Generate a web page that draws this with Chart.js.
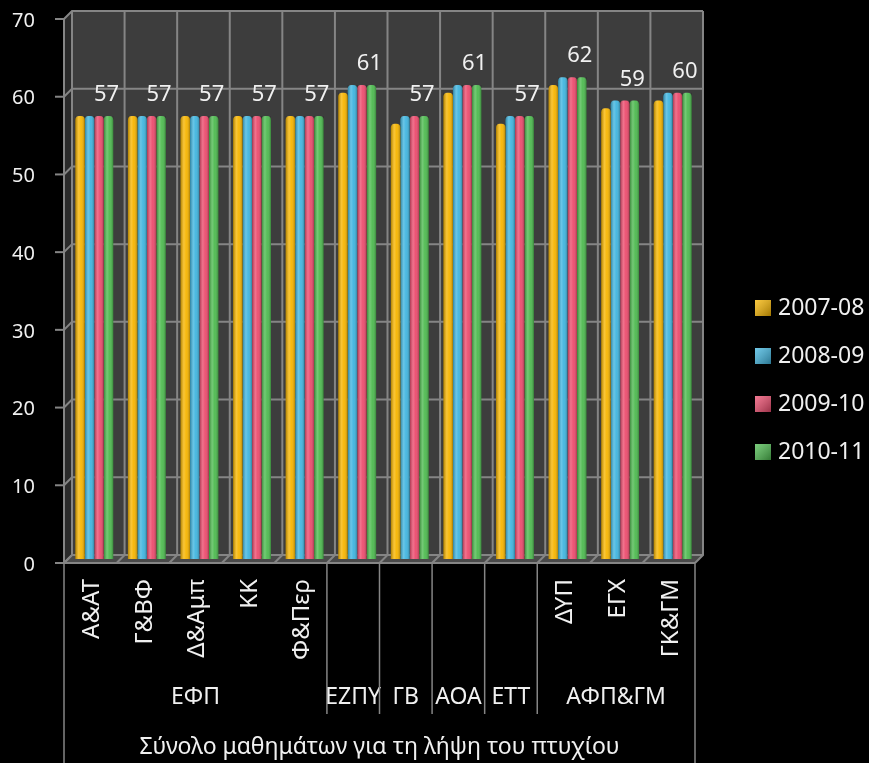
<!DOCTYPE html>
<html>
<head>
<meta charset="utf-8">
<script src="https://cdn.jsdelivr.net/npm/chart.js@4.4.1/dist/chart.umd.min.js"></script>
<style>
  html, body { margin: 0; padding: 0; background: #000; }
  #wrap { width: 869px; height: 763px; position: relative; }
</style>
</head>
<body>
<div id="wrap"><canvas id="grafico"></canvas></div>
<script>
// Dados
const categorias = ['Α&ΑΤ', 'Γ&ΒΦ', 'Δ&Αμπ', 'ΚΚ', 'Φ&Περ', '', '', '', '', 'ΔΥΠ', 'ΕΓΧ', 'ΓΚ&ΓΜ'];
const grupos = ['ΕΦΠ', 'ΕΖΠΥ', 'ΓΒ', 'ΑΟΑ', 'ΕΤΤ', 'ΑΦΠ&ΓΜ'];
const tamanhoGrupos = [5, 1, 1, 1, 1, 3];
const tituloEixo = 'Σύνολο μαθημάτων για τη λήψη του πτυχίου';
const anos = ['2007-08', '2008-09', '2009-10', '2010-11'];
const v0708 = [57, 57, 57, 57, 57, 60, 56, 60, 56, 61, 58, 59];
const v0809 = [57, 57, 57, 57, 57, 61, 57, 61, 57, 62, 59, 60];
const v0910 = [57, 57, 57, 57, 57, 61, 57, 61, 57, 62, 59, 60];
const v1011 = [57, 57, 57, 57, 57, 61, 57, 61, 57, 62, 59, 60];
const ticksY = [0, 10, 20, 30, 40, 50, 60, 70];

const cores = ['#F7B500', '#40B5DF', '#EC4B6D', '#4DBA4F'];
const fonte = '"Noto Sans", "Open Sans", sans-serif';
const DX = 4, DY = 4; // profundidade 3D

// Fundo 3D (paredes, chão, grades)
const paredes = {
  id: 'paredes',
  beforeDatasetsDraw(chart) {
    const { ctx, chartArea: a, scales: { x: xs, y: ys } } = chart;
    ctx.save();
    // parede do fundo
    ctx.fillStyle = '#3d3d3d';
    ctx.fillRect(a.left + DX, a.top - DY, a.right - a.left, a.bottom - a.top);
    // parede lateral
    ctx.fillStyle = '#2a2a2a';
    ctx.beginPath();
    ctx.moveTo(a.left - DX, a.top + DY);
    ctx.lineTo(a.left + DX, a.top - DY);
    ctx.lineTo(a.left + DX, a.bottom - DY);
    ctx.lineTo(a.left - DX, a.bottom + DY);
    ctx.closePath(); ctx.fill();
    // chão
    ctx.fillStyle = '#4a4a4a';
    ctx.beginPath();
    ctx.moveTo(a.left - DX, a.bottom + DY);
    ctx.lineTo(a.left + DX, a.bottom - DY);
    ctx.lineTo(a.right + DX, a.bottom - DY);
    ctx.lineTo(a.right - DX, a.bottom + DY);
    ctx.closePath(); ctx.fill();

    ctx.strokeStyle = '#858585';
    ctx.lineWidth = 2;
    // linhas horizontais
    ticksY.forEach(v => {
      const y = ys.getPixelForValue(v);
      ctx.beginPath();
      ctx.moveTo(a.left - DX, y + DY);
      ctx.lineTo(a.left + DX, y - DY);
      ctx.lineTo(a.right + DX, y - DY);
      ctx.stroke();
    });
    // linhas verticais entre categorias
    const n = categorias.length;
    for (let i = 0; i <= n; i++) {
      let x;
      if (i === 0) x = a.left;
      else if (i === n) x = a.right;
      else x = (xs.getPixelForValue(i - 1) + xs.getPixelForValue(i)) / 2;
      ctx.beginPath();
      ctx.moveTo(x + DX, a.top - DY);
      ctx.lineTo(x + DX, a.bottom - DY);
      ctx.lineTo(x - DX, a.bottom + DY);
      ctx.stroke();
    }
    ctx.restore();
  }
};

// Brilho cilíndrico, eixos, rótulos, legenda
const frente = {
  id: 'frente',
  afterDatasetsDraw(chart) {
    const { ctx, chartArea: a, scales: { x: xs, y: ys } } = chart;
    ctx.save();
    // brilho nas barras
    chart.data.datasets.forEach((ds, di) => {
      chart.getDatasetMeta(di).data.forEach(bar => {
        const l = bar.x - bar.width / 2, r = bar.x + bar.width / 2;
        const g = ctx.createLinearGradient(l, 0, r, 0);
        g.addColorStop(0, 'rgba(0,0,0,0.28)');
        g.addColorStop(0.35, 'rgba(255,255,255,0.22)');
        g.addColorStop(0.6, 'rgba(255,255,255,0.05)');
        g.addColorStop(1, 'rgba(0,0,0,0.28)');
        ctx.fillStyle = g;
        ctx.fillRect(l, bar.y, bar.width, bar.base - bar.y);
      });
    });

    // rótulos de dados (só 2010-11)
    ctx.fillStyle = '#f0f0f0';
    ctx.font = '22px ' + fonte;
    ctx.textAlign = 'center';
    ctx.textBaseline = 'middle';
    const ult = chart.data.datasets.length - 1;
    chart.getDatasetMeta(ult).data.forEach((bar, i) => {
      ctx.fillText(String(chart.data.datasets[ult].data[i]), bar.x - 2, bar.y - 21);
    });

    // eixo Y da frente
    ctx.strokeStyle = '#858585';
    ctx.lineWidth = 2;
    ctx.beginPath();
    ctx.moveTo(a.left - DX, a.top + DY);
    ctx.lineTo(a.left - DX, a.bottom + DY);
    ctx.stroke();
    ctx.fillStyle = '#f0f0f0';
    ctx.font = '20px ' + fonte;
    ctx.textAlign = 'right';
    ticksY.forEach(v => {
      const y = ys.getPixelForValue(v) + DY;
      ctx.beginPath();
      ctx.moveTo(a.left - DX - 9, y);
      ctx.lineTo(a.left - DX, y);
      ctx.stroke();
      ctx.fillText(String(v), 35, y + 2);
    });

    // eixo X
    const base = a.bottom + DY;
    ctx.beginPath();
    ctx.moveTo(a.left - DX, base);
    ctx.lineTo(a.right - DX, base);
    ctx.stroke();
    ctx.lineWidth = 1.5;
    ctx.beginPath();
    ctx.moveTo(a.left - DX, base); ctx.lineTo(a.left - DX, 763);
    ctx.moveTo(a.right - DX, base); ctx.lineTo(a.right - DX, 763);
    ctx.stroke();

    // nível 1 (rodado)
    ctx.font = '24px ' + fonte;
    ctx.textAlign = 'right';
    categorias.forEach((c, i) => {
      ctx.save();
      ctx.translate(xs.getPixelForValue(i) - 2, 579);
      ctx.rotate(-Math.PI / 2);
      ctx.fillText(c, 0, 0);
      ctx.restore();
    });

    // nível 2 (grupos)
    ctx.font = '23px ' + fonte;
    ctx.textAlign = 'center';
    const larg = (a.right - a.left) / categorias.length;
    let ini = 0;
    grupos.forEach((gname, gi) => {
      const fim = ini + tamanhoGrupos[gi];
      const x0 = a.left + ini * larg - DX, x1 = a.left + fim * larg - DX;
      ctx.fillText(gname, (x0 + x1) / 2, 697);
      if (fim < categorias.length) {
        ctx.beginPath();
        ctx.moveTo(x1, base);
        ctx.lineTo(x1, 714);
        ctx.stroke();
      }
      ini = fim;
    });

    // nível 3 (título)
    ctx.fillText(tituloEixo, (a.left + a.right) / 2 - DX, 747);

    // legenda
    ctx.textAlign = 'left';
    ctx.font = '23px ' + fonte;
    chart.data.datasets.forEach((ds, i) => {
      const yc = 308 + i * 48;
      ctx.fillStyle = ds.backgroundColor;
      ctx.fillRect(755, yc - 8, 16, 16);
      const g = ctx.createLinearGradient(755, yc - 8, 771, yc + 8);
      g.addColorStop(0, 'rgba(255,255,255,0.25)');
      g.addColorStop(1, 'rgba(0,0,0,0.35)');
      ctx.fillStyle = g;
      ctx.fillRect(755, yc - 8, 16, 16);
      ctx.fillStyle = '#f0f0f0';
      ctx.fillText(ds.label, 778, yc);
    });
    ctx.restore();
  }
};

const series = [v0708, v0809, v0910, v1011];
new Chart(document.getElementById('grafico'), {
  type: 'bar',
  data: {
    labels: categorias,
    datasets: series.map((d, i) => ({
      label: anos[i],
      data: d,
      backgroundColor: cores[i],
      borderWidth: 0,
      borderRadius: { topLeft: 4, topRight: 4 },
      borderSkipped: 'bottom',
      barPercentage: 1,
      categoryPercentage: 0.72
    }))
  },
  options: {
    responsive: true,
    maintainAspectRatio: false,
    animation: false,
    layout: { padding: { left: 68, right: 170, top: 15, bottom: 204 } },
    plugins: { legend: { display: false }, tooltip: { enabled: false } },
    scales: {
      x: { display: false },
      y: { display: false, min: 0, max: 70 }
    }
  },
  plugins: [paredes, frente]
});
</script>
</body>
</html>
